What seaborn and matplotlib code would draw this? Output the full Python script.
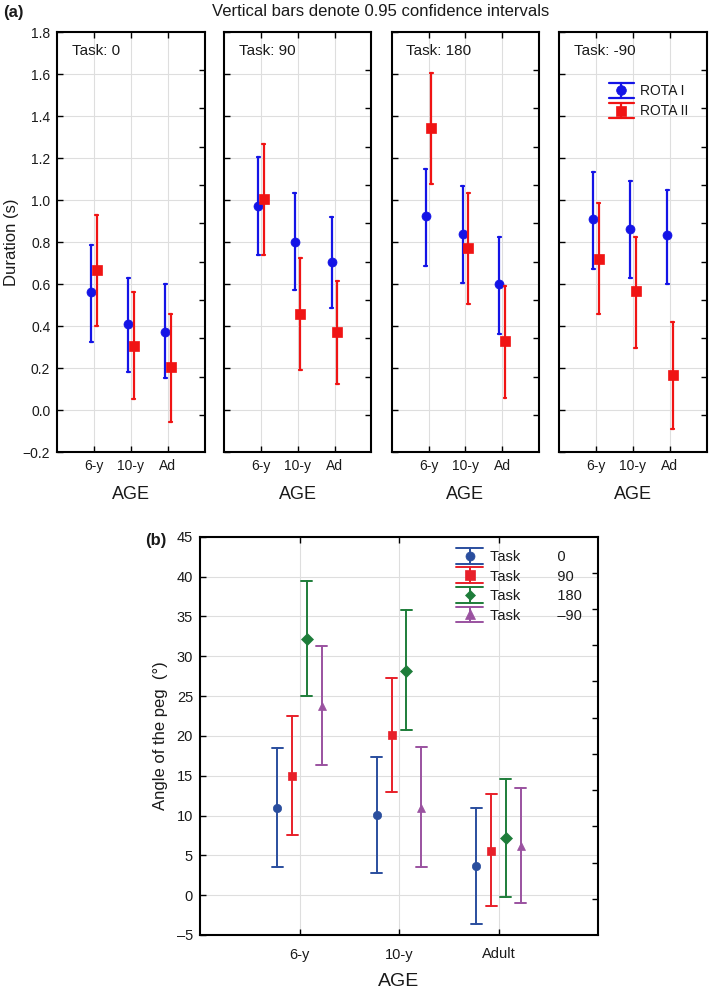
import numpy as np
import pandas as pd
import matplotlib
matplotlib.use("Agg")
import matplotlib.pyplot as plt
import seaborn as sns
from matplotlib.lines import Line2D
from matplotlib.legend_handler import HandlerBase

# ---------------- data: panel (a) ----------------
ages_a = ["6-y", "10-y", "Ad"]
tasks_a = ["0", "90", "180", "-90"]
series_a = ["ROTA I", "ROTA II"]
rota1_mean = [[0.563, 0.412, 0.374], [0.974, 0.803, 0.705], [0.924, 0.841, 0.600], [0.909, 0.863, 0.833]]
rota1_lo = [[0.327, 0.184, 0.152], [0.738, 0.573, 0.486], [0.689, 0.608, 0.363], [0.674, 0.629, 0.603]]
rota1_hi = [[0.787, 0.631, 0.600], [1.205, 1.036, 0.920], [1.149, 1.068, 0.825], [1.136, 1.090, 1.050]]
rota2_mean = [[0.668, 0.306, 0.208], [1.005, 0.457, 0.374], [1.344, 0.773, 0.329], [0.720, 0.568, 0.170]]
rota2_lo = [[0.403, 0.054, -0.054], [0.738, 0.192, 0.124], [1.078, 0.506, 0.060], [0.457, 0.298, -0.089]]
rota2_hi = [[0.930, 0.562, 0.460], [1.267, 0.724, 0.616], [1.605, 1.036, 0.590], [0.986, 0.827, 0.420]]

# ---------------- data: panel (b) ----------------
ages_b = ["6-y", "10-y", "Adult"]
tasks_b = ["0", "90", "180", "\u201390"]
angle_mean = [[11.0, 10.1, 3.7], [15.0, 20.1, 5.5], [32.2, 28.2, 7.2], [23.7, 10.9, 6.2]]
angle_lo = [[3.5, 2.8, -3.6], [7.5, 12.9, -1.35], [25.0, 20.7, -0.25], [16.3, 3.5, -1.0]]
angle_hi = [[18.5, 17.3, 10.9], [22.5, 27.3, 12.7], [39.4, 35.8, 14.6], [31.3, 18.6, 13.4]]

# ---------------- long tables (lo, mean, hi per cell) ----------------
rows_a = []
for ti, t in enumerate(tasks_a):
    for name, m, lo, hi in [("ROTA I", rota1_mean, rota1_lo, rota1_hi),
                            ("ROTA II", rota2_mean, rota2_lo, rota2_hi)]:
        for ai, a in enumerate(ages_a):
            for v in (lo[ti][ai], m[ti][ai], hi[ti][ai]):
                rows_a.append(dict(task=t, series=name, age=a, value=v))
df_a = pd.DataFrame(rows_a)

rows_b = []
for ti, t in enumerate(tasks_b):
    for ai, a in enumerate(ages_b):
        for v in (angle_lo[ti][ai], angle_mean[ti][ai], angle_hi[ti][ai]):
            rows_b.append(dict(task=t, age=a, value=v))
df_b = pd.DataFrame(rows_b)

# ---------------- style ----------------
sns.set_theme(style="white")
plt.rcParams["font.family"] = ["Liberation Sans", "DejaVu Sans"]
plt.rcParams["axes.unicode_minus"] = True
for k in ["text.color", "axes.labelcolor", "xtick.color", "ytick.color"]:
    plt.rcParams[k] = "#1a1a1a"

col_a = ["#1414e6", "#f01414"]
col_b = ["#2a4e9e", "#e8202a", "#1e7d3a", "#9a52a0"]
grid_col = "#dedede"


class CapHandler(HandlerBase):
    def __init__(self, hfrac=0.8):
        super().__init__()
        self.hfrac = hfrac

    def create_artists(self, legend, orig_handle, xdescent, ydescent,
                       width, height, fontsize, trans):
        c = orig_handle.get_color()
        lw = orig_handle.get_linewidth()
        x0, x1 = -xdescent, -xdescent + width
        xm = (x0 + x1) / 2
        ym = -ydescent + height / 2
        h = height * self.hfrac
        arts = [
            Line2D([x0, x1], [ym + h, ym + h], color=c, lw=lw, transform=trans),
            Line2D([x0, x1], [ym - h, ym - h], color=c, lw=lw, transform=trans),
            Line2D([xm, xm], [ym - h, ym + h], color=c, lw=lw, transform=trans),
            Line2D([xm], [ym], marker=orig_handle.get_marker(), ms=orig_handle.get_markersize(),
                   mew=0.5, color=c, ls="none", transform=trans),
        ]
        return arts


def style_axes(ax, right_ticks):
    for s in ax.spines.values():
        s.set_color("black")
        s.set_linewidth(1.5)
    ax.grid(True, color=grid_col, linewidth=0.8)
    ax.set_axisbelow(True)
    ax.tick_params(axis="both", direction="in", length=4, width=1, color="black",
                   top=True, bottom=True, left=True, right=False)
    tw = ax.twinx()
    tw.set_ylim(ax.get_ylim())
    tw.set_yticks(right_ticks)
    tw.tick_params(axis="y", direction="in", length=4, width=1, labelright=False, color="black")
    tw.grid(False)
    for s in tw.spines.values():
        s.set_visible(False)
    return tw


fig = plt.figure(figsize=(7.09, 9.89), dpi=100)

# ---------------- panel (a) ----------------
lefts = [57.3, 224.0, 391.7, 559.3]
W, H = 709.0, 989.0
for i, t in enumerate(tasks_a):
    ax = fig.add_axes([lefts[i] / W, 1 - 452.3 / H, 147.4 / W, 420.0 / H])
    sub = df_a[df_a["task"] == t]
    sns.pointplot(data=sub, x="age", y="value", hue="series", order=ages_a,
                  hue_order=series_a, palette=col_a, estimator="median",
                  errorbar=("pi", 100), dodge=0.15, markers=["o", "s"],
                  linestyles=["none", "none"], capsize=0.08,
                  err_kws={"linewidth": 1.6}, markersize=6.5, markeredgewidth=0.5,
                  legend=False, ax=ax)
    ax.set_xlim(-1, 3)
    ax.set_ylim(-0.2, 1.8)
    ax.set_yticks(np.arange(-0.2, 1.81, 0.2))
    ax.set_yticklabels([f"{v:.1f}".replace("-", "\u2212") for v in np.arange(-0.2, 1.81, 0.2)])
    ax.set_xlabel("AGE", fontsize=13, labelpad=9)
    ax.set_ylabel("Duration (s)" if i == 0 else "", fontsize=12, labelpad=3)
    style_axes(ax, np.linspace(1.62, -0.0225, 10))
    ax.tick_params(axis="both", labelsize=10, pad=5)
    if i > 0:
        ax.tick_params(axis="y", labelleft=False)
    ax.text(0.1, 0.955, f"Task: {t}", transform=ax.transAxes, fontsize=11,
            va="center", ha="left")
    if i == 3:
        hs = [Line2D([], [], color=col_a[0], marker="o", ms=7, lw=1.6),
              Line2D([], [], color=col_a[1], marker="s", ms=6.5, lw=1.6)]
        ax.legend(hs, series_a, loc="upper left", bbox_to_anchor=(0.29, 0.893),
                  frameon=False, fontsize=10, handlelength=1.8, handletextpad=0.4,
                  labelspacing=0.45, borderpad=0,
                  handler_map={Line2D: CapHandler(0.8)})

fig.text(381 / W, 1 - 12 / H, "Vertical bars denote 0.95 confidence intervals",
         ha="center", va="center", fontsize=12)
fig.text(3 / W, 1 - 12 / H, "(a)", ha="left", va="center", fontsize=12, fontweight="bold")

# ---------------- panel (b) ----------------
axb = fig.add_axes([200 / W, 1 - 935 / H, 398 / W, 398.3 / H])
sns.pointplot(data=df_b, x="age", y="value", hue="task", order=ages_b,
              hue_order=tasks_b, palette=col_b, estimator="median",
              errorbar=("pi", 100), dodge=0.45, markers=["o", "s", "D", "^"],
              linestyles=["none"] * 4, capsize=0.11,
              err_kws={"linewidth": 1.4}, markersize=6, markeredgewidth=0.5,
              legend=False, ax=axb)
axb.set_xlim(-1, 3)
axb.set_ylim(-5, 45)
axb.set_yticks(np.arange(-5, 46, 5))
axb.set_yticklabels([str(v).replace("-", "\u2013") for v in range(-5, 46, 5)])
axb.set_xlabel("AGE", fontsize=14, labelpad=8)
axb.set_ylabel("Angle of the peg  (\u00b0)", fontsize=12, labelpad=6)
style_axes(axb, np.linspace(40.48, -0.46, 10))
axb.tick_params(axis="both", labelsize=10.5, pad=5)
axb.tick_params(axis="x", pad=9)
hb = [Line2D([], [], color=col_b[0], marker="o", ms=6.5, lw=1.4),
      Line2D([], [], color=col_b[1], marker="s", ms=6.5, lw=1.4),
      Line2D([], [], color=col_b[2], marker="D", ms=5, lw=1.4),
      Line2D([], [], color=col_b[3], marker="^", ms=7, lw=1.4)]
labels_b = [f"Task{' ' * 9}{t}" for t in tasks_b]
axb.legend(hb, labels_b, loc="upper left", bbox_to_anchor=(0.625, 0.985),
           frameon=False, fontsize=10.5, handlelength=1.85, handletextpad=0.45,
           labelspacing=0.38, borderpad=0, handler_map={Line2D: CapHandler(0.78)})
fig.text(145 / W, 1 - 540 / H, "(b)", ha="left", va="center", fontsize=12, fontweight="bold")

fig.savefig("out.png", dpi=100)
